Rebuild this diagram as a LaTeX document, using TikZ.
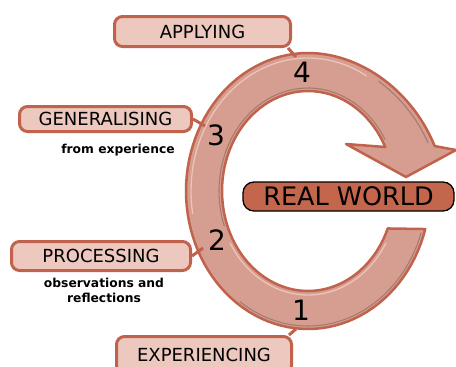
\documentclass[tikz,border=0pt]{standalone}
\usepackage{fontspec}
\setmainfont{DejaVu Sans}
\definecolor{ringfill}{RGB}{214,158,144}
\definecolor{ringedge}{RGB}{193,98,76}
\definecolor{labelfill}{RGB}{236,200,190}
\definecolor{realfill}{RGB}{196,102,76}
\definecolor{bevelshade}{RGB}{140,110,102}
\definecolor{bevellight}{RGB}{236,196,185}
\begin{document}
\begin{tikzpicture}[x=1pt,y=-1pt,
  ring/.style={fill=ringfill, draw=ringedge, line width=2.5pt, line join=round},
  bevel dark/.style={draw=bevelshade, line width=1.1pt, opacity=0.7},
  bevel light/.style={draw=bevellight, line width=1.3pt},
  stage/.style={draw=ringedge, line width=3pt, fill=labelfill, rounded corners=8pt,
    font=\fontsize{18}{20}\selectfont, text height=13pt, text depth=0pt, inner sep=0pt},
  realbox/.style={draw=black, line width=1.3pt, fill=realfill, rounded corners=11pt,
    font=\fontsize{25.5}{28}\selectfont, text height=18.5pt, text depth=0pt, inner sep=0pt},
  link/.style={draw=ringedge, line width=3pt},
  note/.style={font=\bfseries\fontsize{12.3}{15}\selectfont, align=center, inner sep=0pt},
  stepnum/.style={font=\fontsize{28}{30}\selectfont, text height=20pt, text depth=0pt, inner sep=0pt}]
\useasboundingbox (0,0) rectangle (456,367);
\clip (0,0) rectangle (456,367);

% the cycle arrow: outer rim (widening towards the head), arrow head, inner rim
\path[ring]
  plot[domain=16:270, samples=80] ({308+122*cos(\x)},{191+138*sin(\x)})
  -- plot[domain=270:341, samples=30] ({308+(122+12*(\x-270)/71)*cos(\x)},{191+138*sin(\x)})
  -- (456,150) -- (406,177) -- (346,144) -- (385,147)
  -- plot[domain=334:22, samples=90] ({308+86*cos(\x)},{191+100*sin(\x)})
  -- cycle;

% bevel shading along the rims
\draw[bevel light] plot[domain=170:300, samples=50] ({308+117*cos(\x)},{191+133*sin(\x)});
\draw[bevel light] plot[domain=30:150, samples=40] ({308+90*cos(\x)},{191+104*sin(\x)});
\draw[bevel dark] plot[domain=160:330, samples=50] ({308+89*cos(\x)},{191+103*sin(\x)});
\draw[bevel dark] plot[domain=18:125, samples=40] ({308+119*cos(\x)},{191+135*sin(\x)});
\draw[bevel dark] plot[domain=305:339, samples=20] ({308+(117+12*(\x-270)/71)*cos(\x)},{191+134*sin(\x)});

% attachment points on the rim
\coordinate (r4) at (296,57);
\coordinate (r3) at (205,126);
\coordinate (r2) at (203,248);
\coordinate (r1) at (296,329);

% stage labels
\node[stage, minimum width=176pt, minimum height=30pt] (applying) at (202.5,31.5) {APPLYING};
\node[stage, minimum width=172pt, minimum height=25pt] (generalising) at (105.5,119) {GENERALISING};
\node[stage, minimum width=179pt, minimum height=29pt] (processing) at (101,256) {PROCESSING};
\node[stage, minimum width=175pt, minimum height=37pt] (experiencing) at (204,355) {EXPERIENCING};
\node[realbox, minimum width=211pt, minimum height=29pt] (real) at (348.5,196.5) {REAL WORLD};

% connectors from labels to the rim
\draw[link] ([xshift=-4pt]applying.south east) -- (r4);
\draw[link] (generalising.east) -- (r3);
\draw[link] (processing.east) -- (r2);
\draw[link] ([xshift=-4pt]experiencing.north east) -- (r1);

% notes under the labels
\node[note] (fromexp) at (118,150) {from experience};
\node[note] (obs) at (104,290) {observations and\\reflections};

% step numbers
\node[stepnum] (n4) at (302,72) {4};
\node[stepnum] (n3) at (216,135) {3};
\node[stepnum] (n2) at (217,240) {2};
\node[stepnum] (n1) at (301,310) {1};
\end{tikzpicture}
\end{document}
